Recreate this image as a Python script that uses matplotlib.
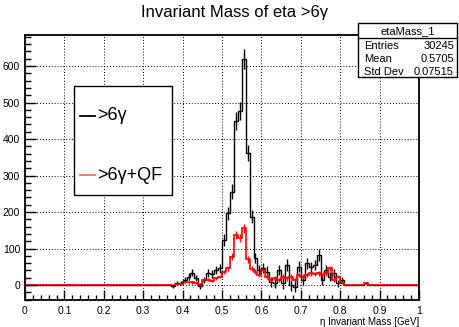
import matplotlib
matplotlib.use('Agg')
import matplotlib.pyplot as plt
import numpy as np
from matplotlib.patches import Rectangle
from matplotlib.lines import Line2D
from matplotlib.ticker import MultipleLocator

plt.rcParams['font.family'] = ['Liberation Sans', 'DejaVu Sans']

# histogram binning: 100 bins on [0, 1], bins before first_bin are empty
n_bins = 100
x_min, x_max = 0.0, 1.0
first_bin = 36

# >6 gamma
eta_6g = [0, -4, 5, 6, 14, 23, 34, 19, -3, 14, 33, 30, 41, 46, 123, 196, 256,
          450, 477, 619, 362, 187, 74, 41, 46, 37, 9, 5, 41, 5, 55, 0, -5, 50,
          14, 60, 50, 55, 82, 14, 41, 23, 32, 5, 14, 0, 0, 0, 0, 0, 5]
eta_6g_err = [0, 4, 5, 6, 8, 9, 10, 9, 8, 9, 10, 10, 11, 12, 16, 18, 20,
              24, 25, 27, 22, 18, 14, 14, 14, 14, 14, 14, 14, 15, 16, 15, 15, 15,
              14, 15, 14, 14, 16, 13, 13, 12, 12, 10, 9, 0, 0, 0, 0, 0, 3]
# >6 gamma + QF
eta_6g_qf = [0, 0, 3, 3, 9, 7, 7, 5, 0, 14, 14, 12, 18, 23, 35, 46, 78,
             137, 128, 155, 70, 45, 37, 27, 41, 23, 14, 20, 14, 23, 18, 23, 14, 27,
             23, 27, 32, 30, 32, 28, 32, 46, 14, 23, 5, 0, 0, 0, 0, 0, 5]
eta_6g_qf_err = [0, 0, 2, 2, 3, 3, 3, 3, 2, 4, 4, 4, 5, 5, 6, 7, 9,
                 12, 11, 13, 9, 7, 6, 6, 6, 6, 5, 5, 5, 6, 6, 6, 5, 6,
                 6, 6, 6, 6, 6, 6, 6, 7, 5, 5, 3, 0, 0, 0, 0, 0, 2]

stats_name = 'etaMass_1'
stats_labels = ['Entries', 'Mean', 'Std Dev']
stats_values = ['30245', '0.5705', '0.07515']

W, H = 459, 327


def px(x, y):
    return x / W, 1 - y / H


def full(vals):
    h = np.zeros(n_bins)
    h[first_bin:first_bin + len(vals)] = vals
    return h


edges = np.linspace(x_min, x_max, n_bins + 1)
centers = 0.5 * (edges[:-1] + edges[1:])

fig = plt.figure(figsize=(W / 100, H / 100), dpi=100)
ax = fig.add_axes([25 / W, 1 - 300 / H, (419 - 25) / W, (300 - 35) / H])

h1, e1 = full(eta_6g), full(eta_6g_err)
h2, e2 = full(eta_6g_qf), full(eta_6g_qf_err)

ax.stairs(h1, edges, color='black', lw=1.0, baseline=None)
m = e1 > 0
ax.errorbar(centers[m], h1[m], yerr=e1[m], fmt='none', ecolor='black', elinewidth=1.0)
ax.stairs(h2, edges, color='red', lw=1.2, baseline=None)
m = e2 > 0
ax.errorbar(centers[m], h2[m], yerr=e2[m], fmt='none', ecolor='red', elinewidth=1.0)

ax.set_xlim(x_min, x_max)
ax.set_ylim(-41, 685)
ax.xaxis.set_major_locator(MultipleLocator(0.1))
ax.xaxis.set_minor_locator(MultipleLocator(0.02))
ax.yaxis.set_major_locator(MultipleLocator(100))
ax.yaxis.set_minor_locator(MultipleLocator(20))
ax.xaxis.set_major_formatter(plt.FuncFormatter(lambda v, p: f'{v:g}'))
ax.tick_params(which='both', direction='in', labelsize=7.5, width=1)
ax.tick_params(axis='y', which='major', length=8, pad=3.5)
ax.tick_params(axis='y', which='minor', length=4)
ax.tick_params(axis='x', which='major', length=7, pad=4)
ax.tick_params(axis='x', which='minor', length=3.5)
ax.grid(True, which='major', color='black', ls=(0, (1, 2)), lw=0.7)
for s in ax.spines.values():
    s.set_linewidth(1.3)

fig.text(*px(419, 322), '\u03b7 Invariant Mass [GeV]', ha='right', va='center', fontsize=7)
fig.text(*px(235, 13), 'Invariant Mass of eta >6\u03b3', ha='center', va='center', fontsize=12)

# stats box
x0, y0, x1, y1, yh = 358, 23, 457, 77, 38
bl = px(x0, y1)
fig.add_artist(Rectangle(bl, (x1 - x0) / W, (y1 - y0) / H, transform=fig.transFigure,
                         facecolor='white', edgecolor='black', lw=1, zorder=5))
fig.add_artist(Line2D([x0 / W, x1 / W], [1 - yh / H] * 2, transform=fig.transFigure,
                      color='black', lw=1, zorder=6))
fig.text(*px((x0 + x1) / 2, 31), stats_name, ha='center', va='center', fontsize=8, zorder=7)
for i, (lab, val) in enumerate(zip(stats_labels, stats_values)):
    yy = 46 + i * 13
    fig.text(*px(364, yy), lab, ha='left', va='center', fontsize=8, zorder=7)
    fig.text(*px(454, yy), val, ha='right', va='center', fontsize=8, zorder=7)

# legend box
lx0, ly0, lx1, ly1 = 74, 86, 172, 195
fig.add_artist(Rectangle(px(lx0, ly1), (lx1 - lx0) / W, (ly1 - ly0) / H,
                         transform=fig.transFigure, facecolor='white',
                         edgecolor='black', lw=1, zorder=5))
legend_entries = [('>6\u03b3', 'black', 116), ('>6\u03b3+QF', '#ff6a6a', 175)]
for lab, col, yy in legend_entries:
    fig.add_artist(Line2D([80 / W, 95 / W], [1 - yy / H] * 2, transform=fig.transFigure,
                          color=col, lw=1.3, zorder=6))
    fig.text(*px(97, yy), lab, ha='left', va='center', fontsize=13, zorder=7)

fig.savefig('out.png', dpi=100)
